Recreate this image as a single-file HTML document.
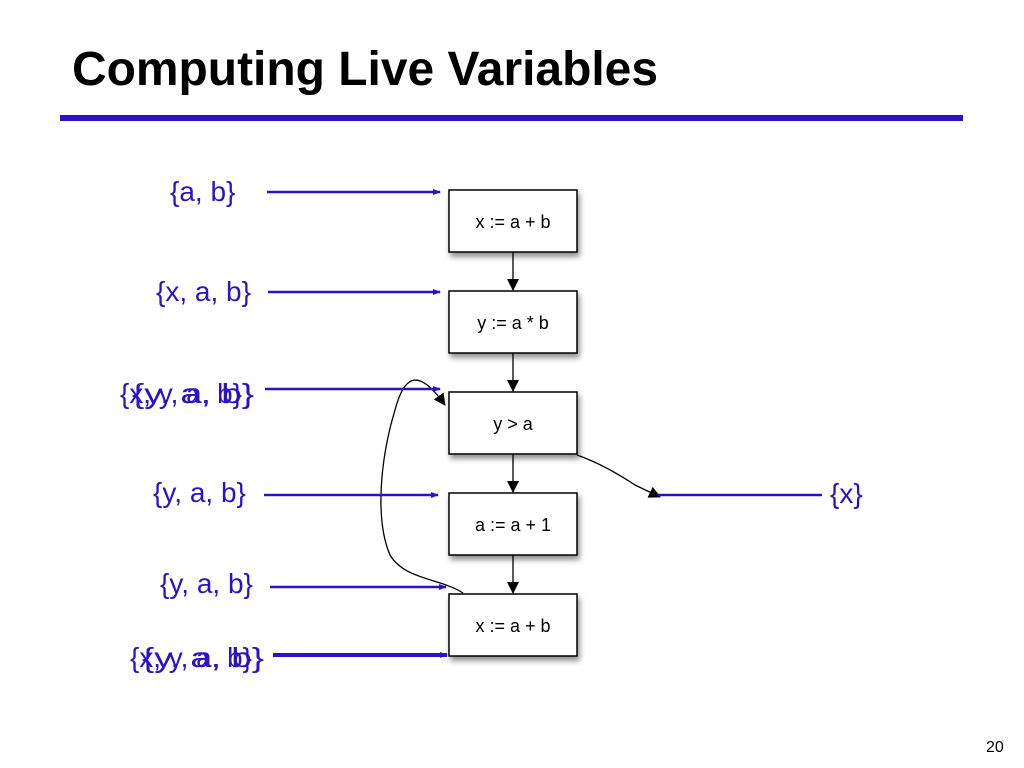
<!DOCTYPE html>
<html><head><meta charset="utf-8"><style>
html,body{margin:0;padding:0;background:#fff;}
svg{display:block;}
.t{font-family:"Liberation Sans",sans-serif;font-size:28px;fill:#2b12c4;}
.b{font-family:"Liberation Sans",sans-serif;font-size:18px;fill:#000;}
</style></head><body>
<svg width="1024" height="768" viewBox="0 0 1024 768" xmlns="http://www.w3.org/2000/svg">
<defs>
<marker id="bk" markerWidth="12" markerHeight="12" refX="11" refY="6" orient="auto" markerUnits="userSpaceOnUse"><path d="M0,0 L12,6 L0,12 z" fill="#000"/></marker>
<marker id="bl" markerWidth="8" markerHeight="8" refX="7" refY="4" orient="auto" markerUnits="userSpaceOnUse"><path d="M0,1 L8,4 L0,7 z" fill="#2b12c4"/></marker>
<filter id="sh" x="-10%" y="-10%" width="130%" height="140%"><feDropShadow dx="2" dy="4" stdDeviation="3" flood-color="#000" flood-opacity="0.45"/></filter>
</defs>
<text x="72" y="85" font-family="Liberation Sans, sans-serif" font-weight="bold" font-size="48" fill="#000" textLength="586" lengthAdjust="spacingAndGlyphs">Computing Live Variables</text>
<rect x="60" y="115" width="903" height="6" fill="#2b12c4"/>
<g stroke="#000" stroke-width="1.5" fill="#fff" filter="url(#sh)">
<rect x="449" y="190" width="128" height="62"/>
<rect x="449" y="291" width="128" height="62"/>
<rect x="449" y="392" width="128" height="62"/>
<rect x="449" y="493" width="128" height="62"/>
<rect x="449" y="594" width="128" height="62"/>
</g>
<g text-anchor="middle">
<text class="b" x="513" y="228">x := a + b</text>
<text class="b" x="513" y="329">y := a * b</text>
<text class="b" x="513" y="430">y &gt; a</text>
<text class="b" x="513" y="531">a := a + 1</text>
<text class="b" x="513" y="632">x := a + b</text>
</g>
<g stroke="#000" stroke-width="1.3" fill="none">
<line x1="513" y1="252" x2="513" y2="290" marker-end="url(#bk)"/>
<line x1="513" y1="353" x2="513" y2="391" marker-end="url(#bk)"/>
<line x1="513" y1="454" x2="513" y2="492" marker-end="url(#bk)"/>
<line x1="513" y1="555" x2="513" y2="593" marker-end="url(#bk)"/>
<path d="M577,455 Q605,465 635,485 L660,497" marker-end="url(#bk)"/>
<path d="M463,593 C440,578 405,580 390,555 C375,520 380,460 395,410 C405,372 420,370 445,405" marker-end="url(#bk)"/>
</g>
<g stroke="#2b12c4" stroke-width="2.5" fill="none">
<line x1="267" y1="192" x2="440" y2="192" marker-end="url(#bl)"/>
<line x1="268" y1="292" x2="440" y2="292" marker-end="url(#bl)"/>
<line x1="265" y1="389" x2="440" y2="389" marker-end="url(#bl)"/>
<line x1="264" y1="495" x2="438" y2="495" marker-end="url(#bl)"/>
<line x1="270" y1="587" x2="446" y2="587" marker-end="url(#bl)"/>
<line x1="273" y1="655" x2="447" y2="655" stroke-width="4" marker-end="url(#bl)"/>
<line x1="658" y1="495" x2="822" y2="495"/>
</g>
<text class="t" x="170" y="201">{a, b}</text>
<text class="t" x="156" y="301">{x, a, b}</text>
<text class="t" x="120" y="403" textLength="122" lengthAdjust="spacingAndGlyphs">{x, y, a, b}</text>
<text class="t" x="132" y="403" textLength="122" lengthAdjust="spacingAndGlyphs">{y, a, b}</text>
<text class="t" x="153" y="502">{y, a, b}</text>
<text class="t" x="160" y="593">{y, a, b}</text>
<text class="t" x="130" y="667" textLength="122" lengthAdjust="spacingAndGlyphs">{x, y, a, b}</text>
<text class="t" x="142" y="667" textLength="122" lengthAdjust="spacingAndGlyphs">{y, a, b}</text>
<text class="t" x="830" y="503">{x}</text>
<text x="986" y="752" font-family="Liberation Sans, sans-serif" font-size="16" fill="#000">20</text>
</svg>
</body></html>
